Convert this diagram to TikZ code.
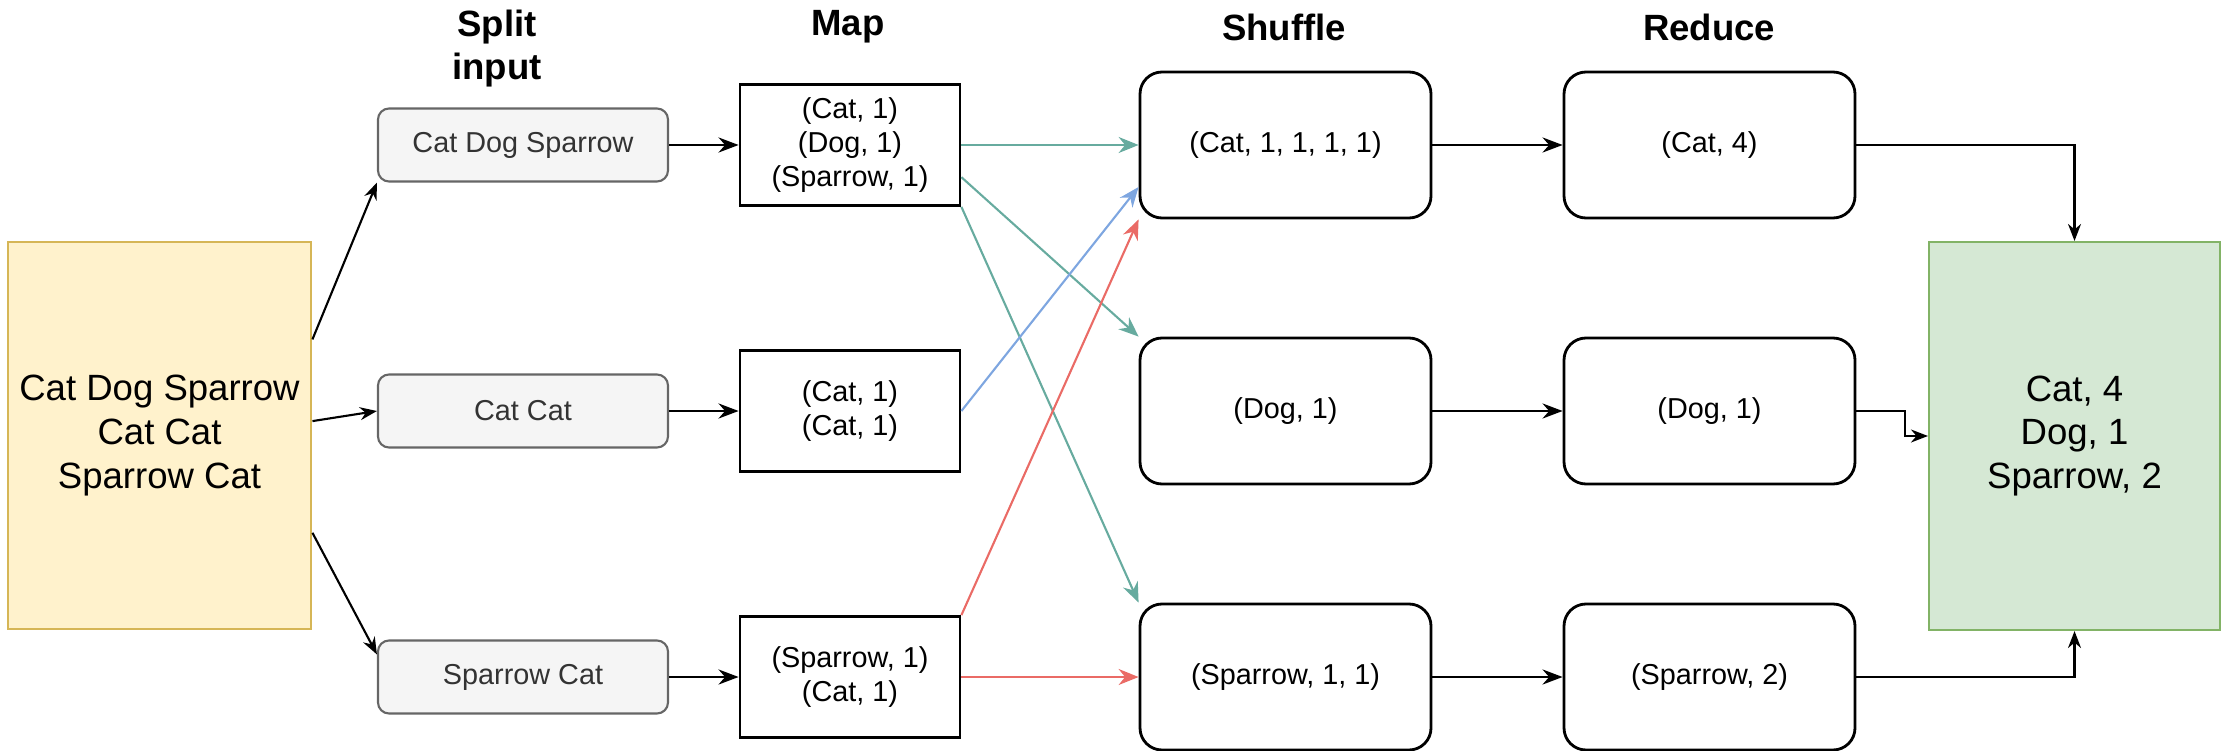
\documentclass[tikz,border=0pt]{standalone}
\usepackage{fontspec}
\setmainfont{Liberation Sans}
\usepackage{xcolor}
\usepackage{tikz}
\usetikzlibrary{positioning,calc,arrows.meta}

\definecolor{inputfill}{HTML}{FFF2CC}
\definecolor{inputline}{HTML}{D6B656}
\definecolor{splitfill}{HTML}{F5F5F5}
\definecolor{splitline}{HTML}{666666}
\definecolor{splittext}{HTML}{333333}
\definecolor{outfill}{HTML}{D5E8D4}
\definecolor{outline}{HTML}{82B366}
\definecolor{tealline}{HTML}{67AB9F}
\definecolor{blueline}{HTML}{7EA6E0}
\definecolor{redline}{HTML}{EA6B66}

\begin{document}
\begin{tikzpicture}[
    small/.style={font=\fontsize{8.2}{9.8}\selectfont},
    big/.style={font=\fontsize{10.4}{12.5}\selectfont, align=center},
    title/.style={font=\fontsize{10.4}{12.3}\selectfont\bfseries, align=center},
    splitbox/.style={draw=splitline, fill=splitfill, text=splittext, rounded corners=0.11cm, minimum width=2.9cm, minimum height=0.73cm, small, line width=0.6pt},
    mapbox/.style={draw, line width=0.8pt, minimum width=2.2cm, minimum height=1.21cm, small, align=center},
    keybox/.style={draw, line width=0.8pt, rounded corners=0.22cm, minimum width=2.91cm, minimum height=1.46cm, small},
    link/.style={line width=0.8pt, -{Stealth[length=0.2cm, width=0.15cm]}},
    thinlink/.style={line width=0.6pt, -{Stealth[length=0.17cm, width=0.13cm]}},
    flow/.style={line width=0.6pt, -{Stealth[length=0.2cm, width=0.16cm]}}
]
    \useasboundingbox (0, 0) rectangle (22.29, 7.5);

    % Titles
    \node [title] (tsplit) at (4.97, 7.015) {Split\\input};
    \node [title] (tmap) at (8.48, 7.23) {Map};
    \node [title] (tshuffle) at (12.84, 7.23) {Shuffle};
    \node [title] (treduce) at (17.09, 7.23) {Reduce};

    % Input
    \node [draw=inputline, fill=inputfill, line width=0.6pt, minimum width=2.91cm, minimum height=3.87cm, big] (input) at (1.595, 3.145) {Cat Dog Sparrow\\Cat Cat\\Sparrow Cat};

    % Split input
    \node [splitbox] (split1) at (5.23, 6.05) {Cat Dog Sparrow};
    \node [splitbox] (split2) at (5.23, 3.39) {Cat Cat};
    \node [splitbox] (split3) at (5.23, 0.73) {Sparrow Cat};

    % Map
    \node [mapbox] (map1) at (8.50, 6.05) {(Cat, 1)\\(Dog, 1)\\(Sparrow, 1)};
    \node [mapbox] (map2) at (8.50, 3.39) {(Cat, 1)\\(Cat, 1)};
    \node [mapbox] (map3) at (8.50, 0.73) {(Sparrow, 1)\\(Cat, 1)};

    % Shuffle
    \node [keybox] (shuffle1) at (12.855, 6.05) {(Cat, 1, 1, 1, 1)};
    \node [keybox] (shuffle2) at (12.855, 3.39) {(Dog, 1)};
    \node [keybox] (shuffle3) at (12.855, 0.73) {(Sparrow, 1, 1)};

    % Reduce
    \node [keybox] (reduce1) at (17.095, 6.05) {(Cat, 4)};
    \node [keybox] (reduce2) at (17.095, 3.39) {(Dog, 1)};
    \node [keybox] (reduce3) at (17.095, 0.73) {(Sparrow, 2)};

    % Output
    \node [draw=outline, fill=outfill, line width=0.6pt, minimum width=2.91cm, minimum height=3.88cm, big] (output) at (20.745, 3.14) {Cat, 4\\Dog, 1\\Sparrow, 2};

    % Input -> split
    \draw [thinlink] ($(input.north east)!0.253!(input.south east)$) -- (split1.south west);
    \draw [thinlink] ($(input.north east)!0.463!(input.south east)$) -- (split2.west);
    \draw [thinlink] ($(input.north east)!0.75!(input.south east)$) -- ($(split3.north west)!0.2!(split3.south west)$);

    % Split -> map, shuffle -> reduce
    \foreach \i in {1, 2, 3} {
        \draw [link] (split\i.east) -- (map\i.west);
        \draw [link] (shuffle\i.east) -- (reduce\i.west);
    }

    % Map -> shuffle
    \draw [flow, tealline] (map1.east) -- (shuffle1.west);
    \draw [flow, tealline] ($(map1.north east)!0.76!(map1.south east)$) -- (shuffle2.north west);
    \draw [flow, tealline] (map1.south east) -- (shuffle3.north west);
    \draw [flow, blueline] (map2.east) -- ([yshift=-0.42cm]shuffle1.west);
    \draw [flow, redline] (map3.north east) -- (shuffle1.south west);
    \draw [flow, redline] (map3.east) -- (shuffle3.west);

    % Reduce -> output
    \draw [thinlink] (reduce1.east) -| (output.north);
    \draw [thinlink] (reduce2.east) -- ++(0.49, 0) |- (output.west);
    \draw [thinlink] (reduce3.east) -| (output.south);
\end{tikzpicture}
\end{document}
